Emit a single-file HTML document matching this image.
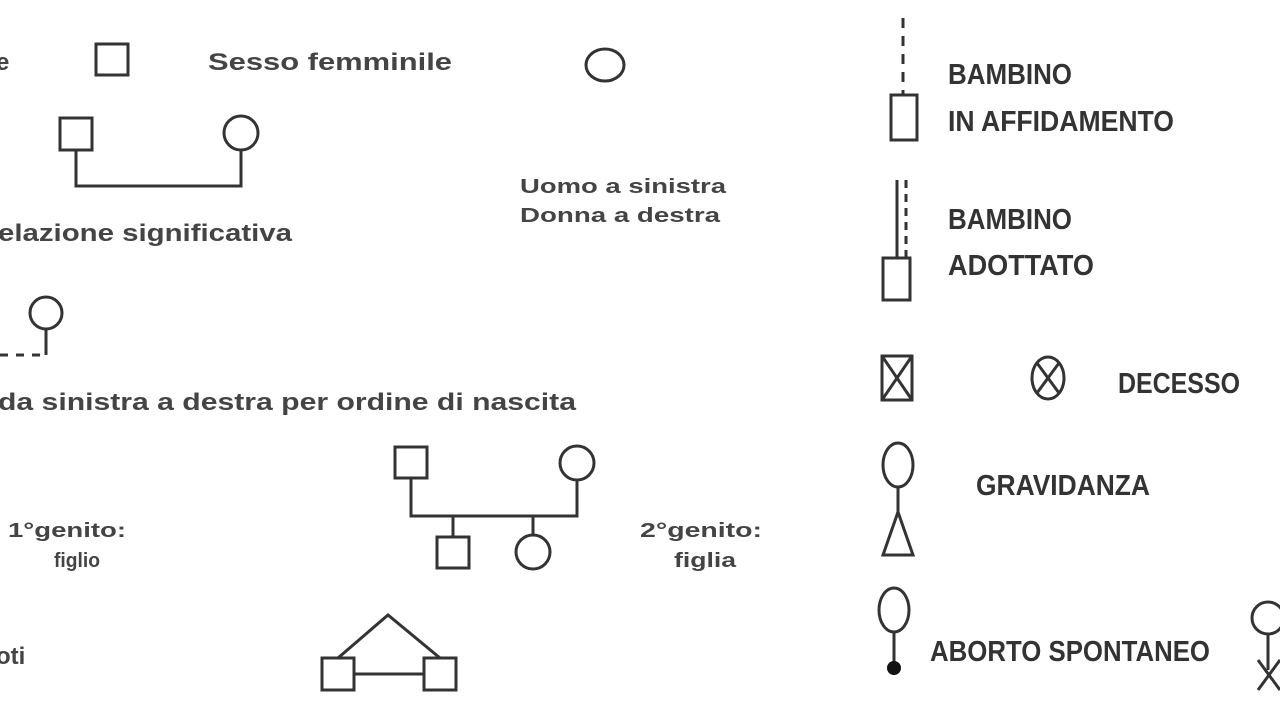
<!DOCTYPE html>
<html><head><meta charset="utf-8"><style>html,body{margin:0;padding:0;background:#fff;width:1280px;height:720px;overflow:hidden}</style></head>
<body>
<svg width="1280" height="720" xmlns="http://www.w3.org/2000/svg" font-family="Liberation Sans, sans-serif" font-weight="bold" fill="#444">
<g stroke="#333" stroke-width="3" fill="none">
<rect x="96" y="44" width="32" height="31"/>
<ellipse cx="605" cy="65" rx="19" ry="16"/>
<rect x="60" y="118" width="32" height="32"/>
<circle cx="241" cy="133" r="17"/>
<polyline points="76,150 76,186 241,186 241,150"/>
<circle cx="46" cy="313" r="16"/>
<line x1="46" y1="329" x2="46" y2="355"/>
<line x1="0" y1="355" x2="46" y2="355" stroke-dasharray="8,8"/>
<rect x="395" y="447" width="32" height="31"/>
<circle cx="577" cy="463" r="17"/>
<polyline points="411,478 411,516 577,516 577,480"/>
<line x1="453" y1="516" x2="453" y2="537"/>
<line x1="533" y1="516" x2="533" y2="535"/>
<rect x="437" y="537" width="32" height="31"/>
<circle cx="533" cy="552" r="17"/>
<rect x="322" y="658" width="32" height="32"/>
<rect x="424" y="658" width="32" height="32"/>
<line x1="354" y1="674" x2="424" y2="674"/>
<polyline points="338,658 388,615 440,658"/>
<line x1="903" y1="18" x2="903" y2="95" stroke-dasharray="10,8"/>
<rect x="891" y="95" width="26" height="45"/>
<line x1="897" y1="180" x2="897" y2="258"/>
<line x1="906" y1="180" x2="906" y2="258" stroke-dasharray="8,6"/>
<rect x="883" y="258" width="27" height="42"/>
<rect x="882" y="356" width="30" height="44"/>
<line x1="882" y1="356" x2="912" y2="400"/><line x1="912" y1="356" x2="882" y2="400"/>
<ellipse cx="1048" cy="378" rx="16" ry="21"/>
<line x1="1037" y1="363" x2="1059" y2="393"/><line x1="1059" y1="363" x2="1037" y2="393"/>
<ellipse cx="898" cy="465" rx="15" ry="22"/>
<line x1="898" y1="487" x2="898" y2="512"/>
<polygon points="898,512 883,555 913,555"/>
<ellipse cx="894" cy="610" rx="15" ry="22"/>
<line x1="894" y1="632" x2="894" y2="665"/>
<circle cx="1268" cy="618" r="16"/>
<line x1="1268" y1="634" x2="1268" y2="670"/>
<line x1="1258" y1="690" x2="1280" y2="660"/><line x1="1258" y1="660" x2="1280" y2="690"/>
</g>
<circle cx="894" cy="668" r="7" fill="#111"/>
<g font-size="24">
<text x="-4" y="70">e</text>
<text x="208" y="70" textLength="244" lengthAdjust="spacingAndGlyphs">Sesso femminile</text>
<text x="-2" y="241" textLength="294" lengthAdjust="spacingAndGlyphs">elazione significativa</text>
<text x="-2" y="410" textLength="578" lengthAdjust="spacingAndGlyphs">da sinistra a destra per ordine di nascita</text>
<text x="-4" y="664">oti</text>
</g>
<g font-size="20">
<text x="520" y="193" textLength="206" lengthAdjust="spacingAndGlyphs">Uomo a sinistra</text>
<text x="520" y="222" textLength="200" lengthAdjust="spacingAndGlyphs">Donna a destra</text>
<text x="8" y="537" textLength="118" lengthAdjust="spacingAndGlyphs">1°genito:</text>
<text x="54" y="567" textLength="46" lengthAdjust="spacingAndGlyphs">figlio</text>
<text x="640" y="537" textLength="122" lengthAdjust="spacingAndGlyphs">2°genito:</text>
<text x="674" y="567" textLength="62" lengthAdjust="spacingAndGlyphs">figlia</text>
</g>
<g font-size="29" fill="#333">
<text x="948" y="84" textLength="124" lengthAdjust="spacingAndGlyphs">BAMBINO</text>
<text x="948" y="131" textLength="226" lengthAdjust="spacingAndGlyphs">IN AFFIDAMENTO</text>
<text x="948" y="229" textLength="124" lengthAdjust="spacingAndGlyphs">BAMBINO</text>
<text x="948" y="275" textLength="146" lengthAdjust="spacingAndGlyphs">ADOTTATO</text>
<text x="1118" y="393" textLength="122" lengthAdjust="spacingAndGlyphs">DECESSO</text>
<text x="976" y="495" textLength="174" lengthAdjust="spacingAndGlyphs">GRAVIDANZA</text>
<text x="930" y="661" textLength="280" lengthAdjust="spacingAndGlyphs">ABORTO SPONTANEO</text>
</g>
</svg>
</body></html>
